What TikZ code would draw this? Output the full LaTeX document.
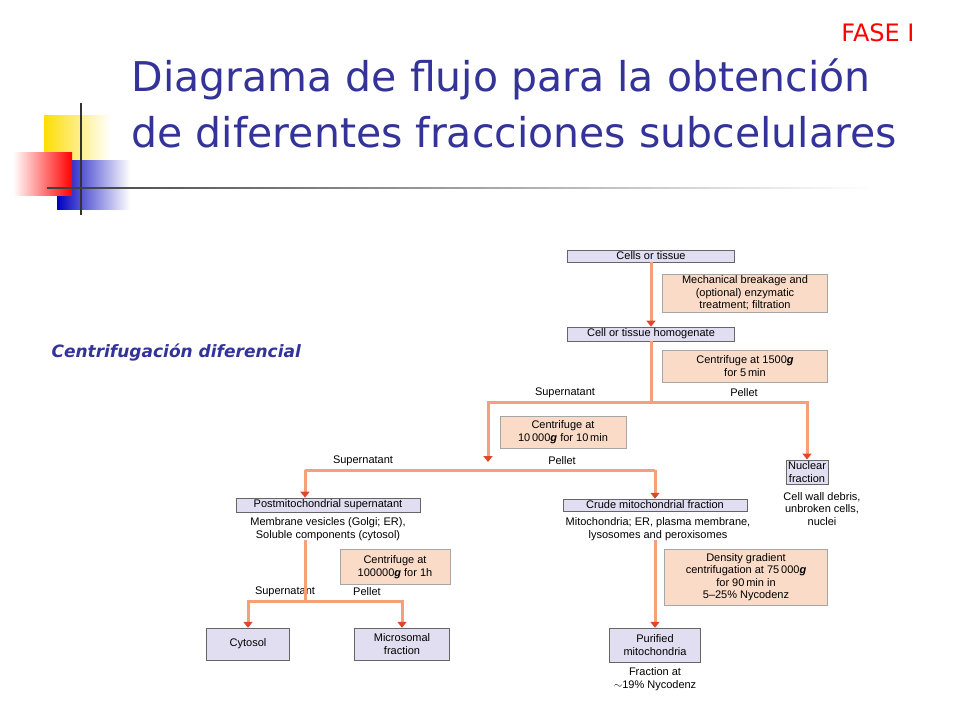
\documentclass[tikz,border=0pt]{standalone}
\usepackage{fontspec}
\setmainfont{Liberation Sans}
\newfontfamily\titlefont{DejaVu Sans}
\usetikzlibrary{arrows.meta,positioning,fadings}
\definecolor{titleblue}{RGB}{51,51,153}
\definecolor{lilac}{RGB}{224,222,240}
\definecolor{peach}{RGB}{250,219,200}
\definecolor{flow}{RGB}{245,160,120}
\definecolor{tipred}{RGB}{225,70,40}
\tikzset{
  stepbox/.style={draw=gray!80!black, fill=lilac, font=\fontsize{11}{12.5}\selectfont, inner sep=2pt, align=center},
  opbox/.style={draw=gray!70, fill=peach, font=\fontsize{11}{12.5}\selectfont, inner sep=2pt, align=center},
  note/.style={font=\fontsize{11}{12.5}\selectfont, align=center, inner sep=0pt},
  flowline/.style={flow, line width=3pt},
  flowarrow/.style={flow, line width=3pt, -{Triangle[length=6pt,width=9pt,color=tipred]}}
}
\begin{document}
\begin{tikzpicture}[x=1pt,y=-1pt]
\useasboundingbox (0,0) rectangle (960,720);
% decoration
\fill[yellow!80!orange, path fading=east] (44,115) rectangle (110,160);
\fill[blue!75!black, path fading=east] (57,160) rectangle (130,210);
\shade[left color=white, right color=red] (13,152) rectangle (72,195);
\draw[black!80, line width=1.5pt] (81,103) -- (81,215);
\draw[black!75, line width=1.5pt, path fading=east] (47,188) -- (870,188);
% titles
\node (fase) at (878,33) [font=\titlefont\fontsize{24}{28}\selectfont, text=red] {FASE I};
\node (title) at (128,103) [anchor=west, align=left, font=\titlefont\fontsize{41}{56}\selectfont, text=titleblue] {Diagrama de flujo para la obtención\\de diferentes fracciones subcelulares};
\node (method) at (48,353) [anchor=west, font=\titlefont\fontsize{17}{19}\selectfont\bfseries\itshape, text=titleblue] {Centrifugación diferencial};

% boxes
\node (cells) at (651,256) [stepbox, minimum width=167pt] {Cells or tissue};
\node (mech) at (745,293) [opbox, minimum width=165pt] {Mechanical breakage and\\(optional) enzymatic\\treatment; filtration};
\node (homog) at (651,334) [stepbox, minimum width=167pt] {Cell or tissue homogenate};
\node (cent1) at (745,366) [opbox, minimum width=165pt, minimum height=32pt] {Centrifuge at 1500\textit{\textbf{g}}\\for 5\,min};
\node (cent2) at (563,432) [opbox, minimum width=126pt, minimum height=32pt] {Centrifuge at\\10\,000\textit{\textbf{g}} for 10\,min};
\node (nuclear) at (807,472) [stepbox] {Nuclear\\fraction};
\node (nuclearnote) at (822,509) [note] {Cell wall debris,\\unbroken cells,\\nuclei};
\node (postmito) at (328,505) [stepbox, minimum width=184pt] {Postmitochondrial supernatant};
\node (postnote) at (328,529) [note] {Membrane vesicles (Golgi; ER),\\Soluble components (cytosol)};
\node (crude) at (655,505) [stepbox, minimum width=184pt] {Crude mitochondrial fraction};
\node (crudenote) at (658,529) [note] {Mitochondria; ER, plasma membrane,\\lysosomes and peroxisomes};
\node (cent3) at (395,567) [opbox, minimum width=110pt, minimum height=35pt] {Centrifuge at\\100000\textit{\textbf{g}} for 1h};
\node (density) at (746,577) [opbox, minimum width=163pt, minimum height=56pt] {Density gradient\\centrifugation at 75\,000\textit{\textbf{g}}\\for 90\,min in\\5--25\% Nycodenz};
\node (cytosol) at (248,644) [stepbox, minimum width=83pt, minimum height=32pt] {Cytosol};
\node (micro) at (402,644) [stepbox, minimum width=95pt, minimum height=32pt] {Microsomal\\fraction};
\node (purified) at (655,645) [stepbox, minimum width=91pt, minimum height=34pt] {Purified\\mitochondria};
\node (purnote) at (655,679) [note] {Fraction at\\$\sim$19\% Nycodenz};

% junctions
\coordinate (j1) at (651,402);
\coordinate (j1end) at (488,462);
\coordinate (j2l) at (305,470);
\coordinate (j2r) at (655,470);
\coordinate (p0) at (305,540);
\coordinate (j3) at (305,601);
\coordinate (c0) at (655,540);

% labels
\node (sup1) at (565,393) [note] {Supernatant};
\node (pel1) at (744,393) [note] {Pellet};
\node (sup2) at (363,461) [note] {Supernatant};
\node (pel2) at (562,461) [note] {Pellet};
\node (sup3) at (285,592) [note] {Supernatant};
\node (pel3) at (367,592) [note] {Pellet};

% connectors
\draw[flowarrow] (cells) -- (homog);
\draw[flowline] (homog) -- (j1);
\draw[flowarrow] (j1) -| (nuclear);
\draw[flowarrow] (j1) -| (j1end);
\draw[flowarrow] (j2l) -- (postmito.north -| j2l);
\draw[flowline] (j2l) -- (j2r);
\draw[flowarrow] (j2r) -- (crude);
\draw[flowline] (p0) -- (j3);
\draw[flowarrow] (j3) -| (cytosol);
\draw[flowarrow] (j3) -| (micro);
\draw[flowarrow] (c0) -- (purified);
\end{tikzpicture}
\end{document}
